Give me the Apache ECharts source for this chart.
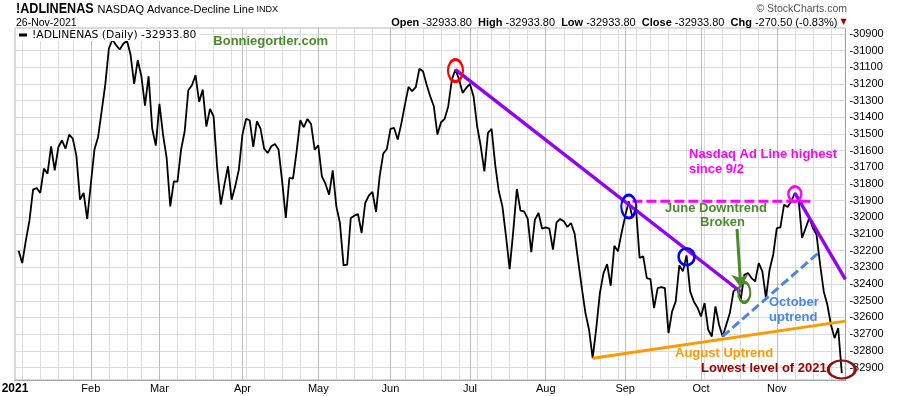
<!DOCTYPE html>
<html><head><meta charset="utf-8">
<script src="https://cdn.jsdelivr.net/npm/echarts@6/dist/echarts.min.js"></script>
<style>html,body{margin:0;padding:0;background:#fff}#c{width:900px;height:396px}</style>
</head><body><div id="c"></div>
<script>
// ---- trading days (categories) ----
const dec2020 = [31];
const jan = [4,5,6,7,8,11,12,13,14,15,19,20,21,22,25,26,27,28,29];
const feb = [1,2,3,4,5,8,9,10,11,12,16,17,18,19,22,23,24,25,26];
const mar = [1,2,3,4,5,8,9,10,11,12,15,16,17,18,19,22,23,24,25,26,29,30,31];
const apr = [1,5,6,7,8,9,12,13,14,15,16,19,20,21,22,23,26,27,28,29,30];
const may = [3,4,5,6,7,10,11,12,13,14,17,18,19,20,21,24,25,26,27,28];
const jun = [1,2,3,4,7,8,9,10,11,14,15,16,17,18,21,22,23,24,25,28,29,30];
const jul = [1,2,6,7,8,9,12,13,14,15,16,19,20,21,22,23,26,27,28,29,30];
const aug = [2,3,4,5,6,9,10,11,12,13,16,17,18,19,20,23,24,25,26,27,30,31];
const sep = [1,2,3,7,8,9,10,13,14,15,16,17,20,21,22,23,24,27,28,29,30];
const oct = [1,4,5,6,7,8,11,12,13,14,15,18,19,20,21,22,25,26,27,28,29];
const nov = [1,2,3,4,5,8,9,10,11,12,15,16,17,18,19,22,23,24,26];
const monthNames = ['Jan','Feb','Mar','Apr','May','Jun','Jul','Aug','Sep','Oct','Nov','Dec'];
const yearLabel = '2021';
const padEnd = '2021-11-29';

// ---- NASDAQ A/D line values (one per trading day) ----
const adLine = [
-32200,-32274,-32140,-32020,-31834,-31824,-31854,-31708,-31738,-31574,
-31718,-31580,-31538,-31588,-31504,-31528,-31630,-31894,-31854,-32010,
-31800,-31594,-31520,-31364,-31204,-30988,-30934,-30968,-30994,-30960,
-30940,-31024,-31200,-31058,-31154,-31330,-31154,-31468,-31570,-31320,
-31504,-31644,-31934,-31784,-31786,-31594,-31484,-31238,-31208,-31148,
-31308,-31234,-31456,-31350,-31394,-31704,-31924,-31804,-31694,-31894,
-31814,-31714,-31504,-31410,-31418,-31578,-31424,-31468,-31588,-31614,
-31574,-31560,-31594,-31784,-32004,-31764,-31768,-31604,-31418,-31460,
-31410,-31440,-31594,-31568,-31754,-31800,-31864,-31718,-31934,-32034,
-32288,-32284,-32004,-31990,-31980,-32094,-31914,-31870,-31848,-31968,
-31754,-31618,-31590,-31470,-31464,-31534,-31438,-31324,-31218,-31244,
-31220,-31110,-31124,-31204,-31274,-31334,-31504,-31430,-31410,-31334,
-31174,-31114,-31174,-31254,-31224,-31200,-31274,-31454,-31574,-31724,
-31494,-31470,-31684,-31844,-31934,-32114,-32310,-32084,-31830,-31960,
-31964,-32008,-32208,-32014,-31974,-32068,-32060,-32068,-32194,-32030,
-32010,-32024,-32058,-32034,-32098,-32264,-32424,-32574,-32674,-32844,
-32664,-32454,-32334,-32280,-32410,-32170,-32204,-32094,-31994,-31904,
-32000,-31944,-32244,-32234,-32364,-32370,-32544,-32424,-32418,-32424,
-32694,-32564,-32504,-32288,-32324,-32228,-32444,-32504,-32540,-32594,
-32514,-32674,-32714,-32534,-32644,-32714,-32644,-32574,-32444,-32424,
-32494,-32344,-32334,-32364,-32384,-32274,-32324,-32484,-32314,-32224,
-32064,-32060,-31924,-31938,-31904,-31854,-31884,-32124,-32064,-32004,
-32064,-32104,-32284,-32444,-32524,-32644,-32724,-32663.3,-32933.8
];

// ---- annotation lines / markers (data coordinates) ----
const juneDowntrend = [['2021-06-25', -31114], ['2021-10-18', -32446]];
const novDowntrend = [['2021-11-08', -31854], [padEnd, -32372]];
const augustUptrend = [['2021-08-19', -32844], [padEnd, -32622]];
const octoberUptrend = [['2021-10-11', -32714], ['2021-11-17', -32204]];
const highSince92 = [['2021-09-03', -31904], ['2021-11-15', -31904]];
const brokenArrow = [['2021-10-15', -32070], ['2021-10-18', -32420]];
const circleRed = ['2021-06-25', -31120];
const circleBlue1 = ['2021-09-02', -31935];
const circleBlue2 = ['2021-09-27', -32236];
const circleGreen = ['2021-10-19', -32450];
const circleMagenta = ['2021-11-08', -31860];
const circleLow = ['2021-11-26', -32912];

const seriesName = '!ADLINENAS (Daily) -32933.80';

// ---- build categories ----
const pad2 = n => (n < 10 ? '0' : '') + n;
const dates = [];
dec2020.forEach(d => dates.push('2020-12-' + pad2(d)));
[jan,feb,mar,apr,may,jun,jul,aug,sep,oct,nov].forEach((arr, m) => arr.forEach(d => dates.push('2021-' + pad2(m + 1) + '-' + pad2(d))));
const categories = [yearLabel].concat(dates, [padEnd]);
const lineData = [null].concat(adLine, [null]);

function mondayOf(s) {
  const t = Date.parse(s + 'T00:00:00Z');
  const dow = new Date(t).getUTCDay();
  return t - ((dow + 6) % 7) * 864e5;
}
function isMonthStart(i) {
  if (i < 2 || i >= categories.length - 1) return false;
  const a = categories[i], b = categories[i - 1];
  return a.slice(5, 7) !== b.slice(5, 7) && a.slice(5, 7) !== '01';
}
function isWeekStart(i) {
  if (i < 2 || i >= categories.length - 1) return false;
  if (isMonthStart(i)) return false;
  return mondayOf(categories[i]) !== mondayOf(categories[i - 1]);
}

const FF = '"Liberation Sans", Arial, sans-serif';
const GREEN = '#4a8a2c';

function trend(data, color, width, type) {
  return { type: 'line', data: data, symbol: 'none', silent: true, z: 4,
    lineStyle: { color: color, width: width, type: type || 'solid', cap: 'butt' }, emphasis: { disabled: true } };
}
function ring(pt, size, color) {
  return { type: 'scatter', data: [pt], symbol: 'circle', symbolSize: size, silent: true, z: 5,
    itemStyle: { color: 'rgba(0,0,0,0)', borderColor: color, borderWidth: 2.6, opacity: 1 }, emphasis: { disabled: true } };
}
function txt(x, y, text, font, fill, align, extra) {
  const o = { type: 'text', x: x, y: y, z: 100, silent: true,
    style: { text: text, font: font, fill: fill, align: align || 'left', textAlign: align || 'left', verticalAlign: 'middle', textVerticalAlign: 'middle' } };
  return Object.assign(o, extra || {});
}

const chart = echarts.init(document.getElementById('c'), null, { renderer: 'canvas' });
chart.setOption({
  animation: false,
  backgroundColor: '#fff',
  grid: { left: 15, right: 54.6, top: 28, bottom: 16, show: true, borderColor: '#b4b4b4', borderWidth: 1,
          backgroundColor: '#fff', containLabel: false, outerBoundsMode: 'none' },
  legend: {
    data: [seriesName], left: 17, top: 29, icon: 'rect', itemWidth: 8, itemHeight: 3, itemGap: 5,
    selectedMode: false, backgroundColor: '#fff', padding: [0, 3, 0, 2], z: 20,
    textStyle: { fontFamily: '"DejaVu Sans", Verdana, sans-serif', fontSize: 10.8, color: '#000', lineHeight: 12 }
  },
  xAxis: [
    { type: 'category', data: categories, boundaryGap: false, position: 'bottom',
      axisLine: { show: true, lineStyle: { color: '#9a9a9a', type: 'dotted', width: 1 } },
      axisTick: { show: false },
      axisLabel: { interval: (i) => i === 0 || isMonthStart(i), hideOverlap: false,
        formatter: (v, i) => v === yearLabel ? '{y|' + yearLabel + '}' : monthNames[parseInt(v.slice(5, 7), 10) - 1],
        color: '#000', fontFamily: FF, fontSize: 11, margin: 3,
        rich: { y: { fontFamily: FF, fontSize: 12, fontWeight: 'bold', color: '#000' } } },
      splitLine: { show: true, interval: (i) => isWeekStart(i), lineStyle: { color: '#dcdcdc', width: 1 } } },
    { type: 'category', data: categories, boundaryGap: false, position: 'top',
      axisLine: { show: false }, axisTick: { show: false }, axisLabel: { show: false },
      splitLine: { show: true, interval: (i) => isMonthStart(i), lineStyle: { color: '#bcbcbc', width: 1 } } }
  ],
  yAxis: {
    type: 'value', position: 'right', min: -32975, max: -30865, minInterval: 100, maxInterval: 100, splitNumber: 21,
    axisLine: { show: true, lineStyle: { color: '#9a9a9a', type: 'dotted' } },
    axisTick: { show: false },
    axisLabel: { color: '#000', fontFamily: FF, fontSize: 11, margin: 4, showMinLabel: false, showMaxLabel: false,
                 formatter: (v) => String(v) },
    splitLine: { show: true, lineStyle: { color: '#dcdcdc', width: 1 } }
  },
  series: [
    { name: seriesName, type: 'line', data: lineData, symbol: 'none', color: '#000', z: 3,
      lineStyle: { color: '#000', width: 1.8 }, emphasis: { disabled: true },
      markLine: { silent: true, symbol: ['none', 'arrow'], symbolSize: 13, label: { show: false },
        lineStyle: { color: GREEN, width: 3, type: 'solid' }, emphasis: { disabled: true },
        data: [[{ coord: brokenArrow[0] }, { coord: brokenArrow[1] }]] } },
    trend(juneDowntrend, '#9400f5', 3.4),
    trend(novDowntrend, '#9400f5', 3.4),
    trend(augustUptrend, '#ff9900', 3),
    trend(octoberUptrend, '#4a86e8', 3, [9, 4]),
    trend(highSince92, '#ff00ff', 3, [10, 4]),
    ring(circleRed, [15, 22], '#ff0000'),
    ring(circleBlue1, [15, 23], '#0000ff'),
    ring(circleBlue2, [16, 17], '#0000ff'),
    ring(circleGreen, [12, 20], GREEN),
    ring(circleMagenta, [13, 15], '#ff00ff'),
    ring(circleLow, [27, 18], '#8b1010')
  ],
  graphic: [
    txt(16, 9.5, '!ADLINENAS', 'bold 14px ' + FF, '#000', 'left', { scaleX: 0.9 }),
    txt(97.5, 9.5, 'NASDAQ Advance-Decline Line', '11px ' + FF, '#000'),
    txt(256.5, 10, 'INDX', '9px ' + FF, '#000'),
    txt(16, 22.7, '26-Nov-2021', '10.5px ' + FF, '#000'),
    txt(847, 9, '\u00A9 StockCharts.com', '10.5px ' + FF, '#555', 'right'),
    { type: 'text', x: 837.5, y: 22.7, z: 100, silent: true,
      style: { text: '{b|Open} {n|-32933.80}  {b|High} {n|-32933.80}  {b|Low} {n|-32933.80}  {b|Close} {n|-32933.80}  {b|Chg} {n|-270.50 (-0.83%)}',
        align: 'right', textAlign: 'right', verticalAlign: 'middle', textVerticalAlign: 'middle', font: '11px ' + FF, fill: '#000',
        rich: { b: { font: 'bold 11px ' + FF, fill: '#000', fontWeight: 'bold', fontSize: 11, fontFamily: FF },
                n: { font: '11px ' + FF, fill: '#000', fontSize: 11, fontFamily: FF } } } },
    txt(843.5, 22, '\u25BC', '8px "DejaVu Sans", sans-serif', '#a00000', 'center'),
    txt(213.3, 41.7, 'Bonniegortler.com', 'bold 13px ' + FF, GREEN),
    txt(689, 154, 'Nasdaq Ad Line highest', 'bold 13px ' + FF, '#ff00ff'),
    txt(689, 169.3, 'since 9/2', 'bold 13px ' + FF, '#ff00ff'),
    txt(716, 208.3, 'June Downtrend', 'bold 13px ' + FF, GREEN, 'center'),
    txt(722.5, 222.3, 'Broken', 'bold 13px ' + FF, GREEN, 'center'),
    txt(769, 302.7, 'October', 'bold 13px ' + FF, '#4a86e8'),
    txt(769, 317.3, 'uptrend', 'bold 13px ' + FF, '#4a86e8'),
    txt(675, 353.3, 'August Uptrend', 'bold 13px ' + FF, '#ff9900'),
    txt(701, 368.3, 'Lowest level of 2021', 'bold 13px ' + FF, '#990000')
  ]
});
</script></body></html>
